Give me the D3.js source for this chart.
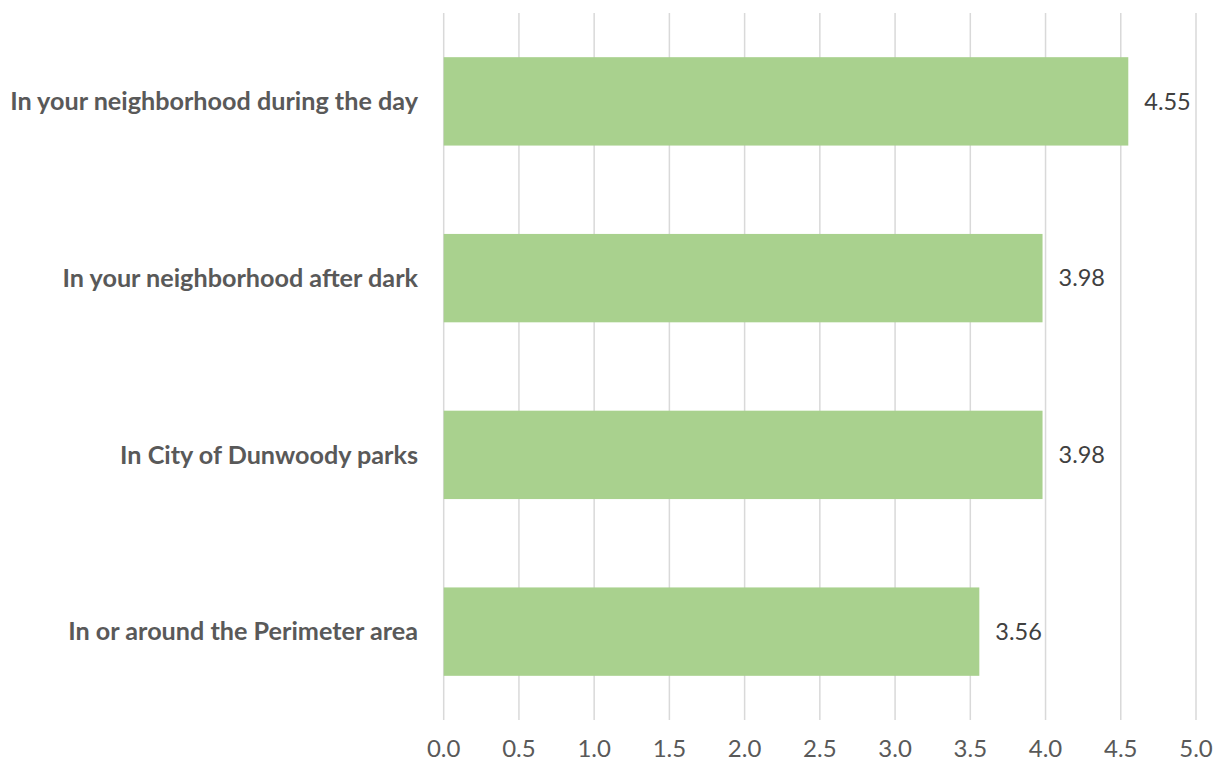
<!DOCTYPE html>
<html><head><meta charset="utf-8">
<script src="https://d3js.org/d3.v7.min.js"></script>
<style>html,body{margin:0;padding:0;background:#fff;}</style>
</head><body><svg id="c" width="1217" height="766"></svg>
<script>
const categories = ["In your neighborhood during the day","In your neighborhood after dark","In City of Dunwoody parks","In or around the Perimeter area"];
const values = [4.55, 3.98, 3.98, 3.56];
const tickValues = [0,0.5,1,1.5,2,2.5,3,3.5,4,4.5,5];

const svg = d3.select("#c");
const x = d3.scaleLinear().domain([0,5]).range([443.7,1196]);
const y = d3.scaleBand().domain(categories).range([13,720]).paddingInner(0.5).paddingOuter(0.25);
const font = "Lato, 'Open Sans', sans-serif";

svg.append("g").selectAll("line").data(tickValues).join("line")
  .attr("x1",d=>x(d)).attr("x2",d=>x(d)).attr("y1",13).attr("y2",720)
  .attr("stroke","#d9d9d9").attr("stroke-width",1.5);

svg.append("g").selectAll("rect").data(values).join("rect")
  .attr("x",x(0)).attr("y",(d,i)=>y(categories[i]))
  .attr("width",d=>x(d)-x(0)).attr("height",y.bandwidth())
  .attr("fill","#a9d18e");

svg.append("g").selectAll("text").data(values).join("text")
  .attr("x",d=>x(d)+16).attr("y",(d,i)=>y(categories[i])+y.bandwidth()/2)
  .attr("dy","0.35em").attr("font-family",font).attr("font-size",23.5)
  .attr("fill","#404040").text(d=>d.toFixed(2));

svg.append("g").selectAll("text").data(categories).join("text")
  .attr("x",418).attr("y",d=>y(d)+y.bandwidth()/2).attr("dy","0.35em")
  .attr("text-anchor","end").attr("font-family",font).attr("font-weight","bold")
  .attr("font-size",25.2).attr("fill","#595959").text(d=>d);

svg.append("g").selectAll("text").data(tickValues).join("text")
  .attr("x",d=>x(d)).attr("y",749).attr("dy","0.35em").attr("text-anchor","middle")
  .attr("font-family",font).attr("font-size",24).attr("fill","#595959").text(d=>d.toFixed(1));
</script></body></html>
